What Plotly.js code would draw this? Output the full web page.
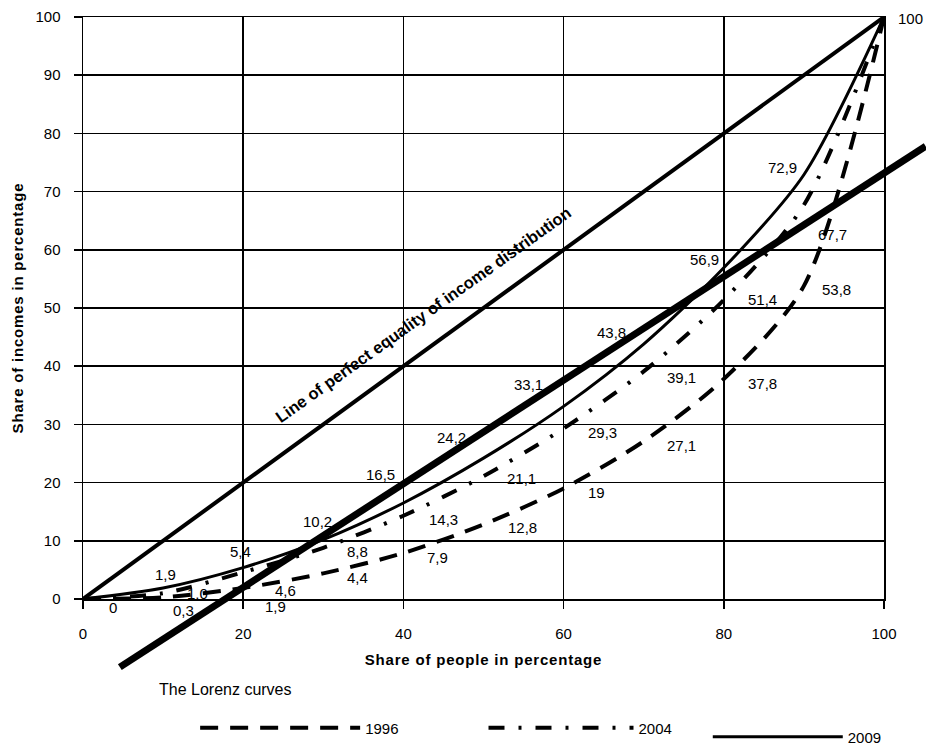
<!DOCTYPE html>
<html>
<head>
<meta charset="utf-8">
<script src="https://cdn.plot.ly/plotly-3.0.1.min.js"></script>
<style>
html,body{margin:0;padding:0;background:#fff;}
#chart{width:926px;height:746px;}
#chart .xtitle, #chart .ytitle { letter-spacing: 0.8px; }
</style>
</head>
<body>
<div id="chart"></div>
<script>
// ---- data ----
const shareOfPeople = [0, 10, 20, 30, 40, 50, 60, 70, 80, 90, 100];
const income1996 = [0, 0.3, 1.9, 4.4, 7.9, 12.8, 19, 27.1, 37.8, 53.8, 100];
const income2004 = [0, 1.0, 4.6, 8.8, 14.3, 21.1, 29.3, 39.1, 51.4, 67.7, 100];
const income2009 = [0, 1.9, 5.4, 10.2, 16.5, 24.2, 33.1, 43.8, 56.9, 72.9, 100];
const equalityX = [0, 100];
const equalityY = [0, 100];
const straightLineX = [4.6, 105.2];
const straightLineY = [-11.7, 77.8];
const seriesNames = ['1996', '2004', '2009'];
const xTickVals = [0, 20, 40, 60, 80, 100];
const xTickText = ['0', '20', '40', '60', '80', '100'];
const yTickVals = [0, 10, 20, 30, 40, 50, 60, 70, 80, 90, 100];

// ---- label offsets (px), null = no label ----
const off1996 = [[30,-8],[20,-13],[32,-19],[34,-4],[34,-4],[39,-3],[33,-4],[38,-4],[39,-4],[33,-4],null];
const off2004 = [null,[34,0],[42,-18],[34,-4],[40,-4],[38,-2],[39,-4],[38,-6],[39,0],[29,-30],null];
const off2009 = [null,[2,13],[-3,16],[-6,18],[-23,28],[-32,21],[-35,22],[-32,12],[-19,8],[-21,7],[26,-1]];

const fmt = v => ((Number.isInteger(v) && v > 0 && v < 10) ? v.toFixed(1) : String(v)).replace('.', ',');
const FONT = 'Liberation Sans, Arial, sans-serif';
const labelFont = {family: FONT, size: 15, color: '#000'};

const annotations = [];
function addLabels(vals, offs) {
  vals.forEach((v, i) => {
    if (!offs[i]) return;
    annotations.push({x: shareOfPeople[i], y: v, xref: 'x', yref: 'y', text: fmt(v),
      showarrow: false, xshift: offs[i][0], yshift: offs[i][1], font: labelFont});
  });
}
addLabels(income1996, off1996);
addLabels(income2004, off2004);
addLabels(income2009, off2009);

annotations.push({x: 42.4, y: 48.8, xref: 'x', yref: 'y', text: 'Line of perfect equality of income distribution',
  showarrow: false, textangle: -35.5, font: {family: FONT, size: 16.5, color: '#000', weight: 'bold'}});
annotations.push({x: 0.0924, y: -0.156, xref: 'paper', yref: 'paper', xanchor: 'left', yanchor: 'middle',
  text: 'The Lorenz curves', showarrow: false, font: {family: FONT, size: 16, color: '#000'}});

const xRange = [0, 100], yRange = [0, 100];
const toPX = v => (v - xRange[0]) / (xRange[1] - xRange[0]);
const toPY = v => (v - yRange[0]) / (yRange[1] - yRange[0]);

const traces = [
  {x: equalityX, y: equalityY, mode: 'lines', line: {color: '#000', width: 4}, showlegend: false, hoverinfo: 'skip'},
  {x: shareOfPeople, y: income1996, name: seriesNames[0], mode: 'lines', legend: 'legend',
   line: {color: '#000', width: 4, dash: '18px,12px', shape: 'spline', smoothing: 0.8}},
  {x: shareOfPeople, y: income2004, name: seriesNames[1], mode: 'lines', legend: 'legend2',
   line: {color: '#000', width: 4, dash: '16px,14px,3px,14px', shape: 'spline', smoothing: 0.8}},
  {x: shareOfPeople, y: income2009, name: seriesNames[2], mode: 'lines', legend: 'legend3',
   line: {color: '#000', width: 3, shape: 'spline', smoothing: 0.8}}
];

const legendCommon = {orientation: 'h', xanchor: 'left', yanchor: 'middle', bgcolor: 'rgba(0,0,0,0)',
  font: {family: FONT, size: 15, color: '#000'}};

const layout = {
  width: 926, height: 746,
  margin: {l: 83, r: 42, t: 17, b: 147, autoexpand: false},
  paper_bgcolor: '#fff', plot_bgcolor: '#fff',
  font: {family: FONT, size: 15, color: '#000'},
  xaxis: {range: xRange, tickvals: xTickVals, ticktext: xTickText, showgrid: true, gridcolor: '#000', gridwidth: 1.5,
    zeroline: false, showline: true, mirror: true, linecolor: '#000', linewidth: 1.5, automargin: false,
    ticks: 'outside', ticklen: 8, tickwidth: 1.5, tickcolor: '#000', ticklabelstandoff: 12,
    tickfont: {family: FONT, size: 15},
    title: {text: 'Share of people in percentage', font: {size: 15, weight: 'bold'}, standoff: 14}},
  yaxis: {range: yRange, tickvals: yTickVals, showgrid: true, gridcolor: '#000', gridwidth: 1.5,
    zeroline: false, showline: true, mirror: true, linecolor: '#000', linewidth: 1.5, automargin: false,
    ticks: 'outside', ticklen: 8, tickwidth: 1.5, tickcolor: '#000', ticklabelstandoff: 10,
    tickfont: {family: FONT, size: 15},
    title: {text: 'Share of incomes in percentage', font: {size: 15, weight: 'bold'}, standoff: 8}},
  showlegend: true,
  legend: Object.assign({}, legendCommon, {x: 0.14, y: -0.2216, itemwidth: 160}),
  legend2: Object.assign({}, legendCommon, {x: 0.5, y: -0.2216, itemwidth: 145}),
  legend3: Object.assign({}, legendCommon, {x: 0.78, y: -0.2371, itemwidth: 130}),
  annotations: annotations,
  shapes: [{type: 'line', xref: 'paper', yref: 'paper', layer: 'above',
    x0: toPX(straightLineX[0]), y0: toPY(straightLineY[0]), x1: toPX(straightLineX[1]), y1: toPY(straightLineY[1]),
    line: {color: '#000', width: 7}}]
};

Plotly.newPlot('chart', traces, layout, {staticPlot: true});
</script>
</body>
</html>
